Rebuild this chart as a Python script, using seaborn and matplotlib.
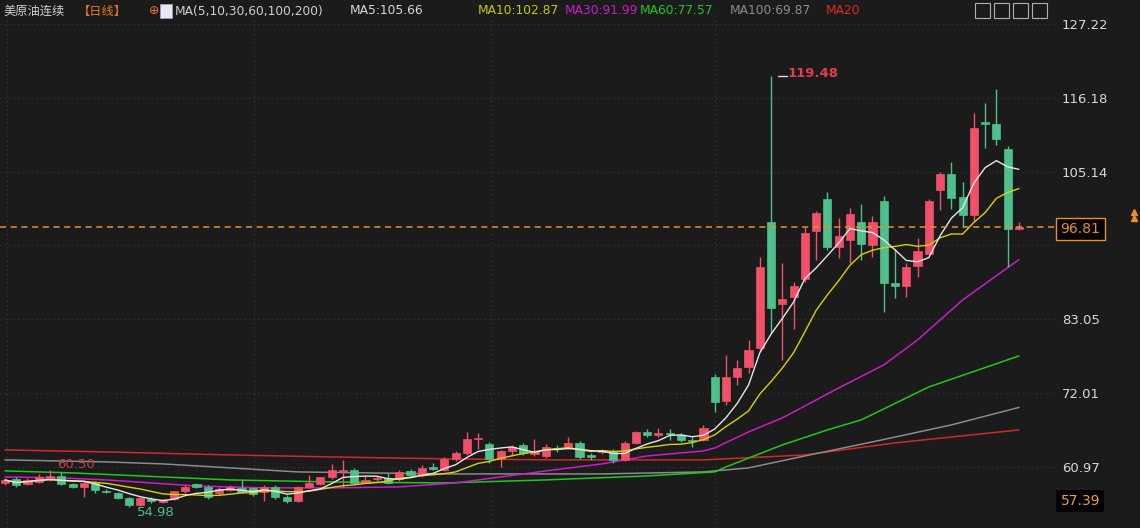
import numpy as np
import pandas as pd
import matplotlib
matplotlib.use("Agg")
import matplotlib.pyplot as plt
from matplotlib.patches import Rectangle
import seaborn as sns

# daily OHLC (91 sessions)
opens = [58.6, 59.2, 58.4, 58.7, 59.1, 59.6, 58.4, 58.0, 58.6, 57.4,
         57.0, 56.3, 55.2, 56.2, 55.7, 56.2, 57.3, 58.4, 58.0, 57.0,
         57.5, 57.8, 57.8, 57.2, 58.0, 56.5, 55.9, 58.0, 58.4, 59.4,
         60.4, 60.5, 58.6, 59.1, 59.3, 59.1, 60.3, 59.7, 60.9, 60.5,
         62.2, 63.0, 65.1, 64.4, 62.2, 63.3, 64.2, 62.9, 62.6, 63.8,
         63.9, 64.5, 62.8, 63.2, 63.4, 62.0, 64.6, 66.2, 65.8, 66.1,
         65.8, 65.0, 65.0, 74.4, 70.9, 74.4, 75.9, 78.7, 97.6, 85.3,
         86.4, 89.1, 96.2, 101.0, 93.9, 94.9, 97.6, 94.2, 100.7, 88.5,
         88.0, 91.0, 92.8, 102.4, 104.8, 101.3, 98.7, 112.6, 112.3, 108.5,
         96.6]
highs = [59.3, 59.5, 59.3, 59.9, 60.5, 60.2, 58.6, 58.9, 58.8, 57.7,
         57.2, 56.4, 56.4, 56.5, 56.1, 57.4, 58.2, 58.6, 58.2, 57.9,
         58.2, 59.0, 58.0, 58.3, 58.2, 56.8, 58.1, 59.7, 59.5, 61.4,
         62.0, 60.8, 59.6, 59.6, 60.0, 60.5, 60.7, 61.2, 61.6, 62.5,
         63.3, 66.2, 66.0, 64.7, 63.5, 64.2, 64.5, 65.2, 64.4, 64.3,
         65.4, 64.8, 63.0, 63.6, 63.7, 64.9, 66.3, 66.7, 66.8, 66.7,
         66.1, 65.4, 67.2, 74.9, 77.7, 76.9, 79.9, 92.4, 119.48, 91.4,
         88.6, 96.8, 99.3, 102.1, 98.2, 99.7, 100.3, 98.5, 101.5, 93.6,
         91.5, 95.2, 101.0, 105.1, 106.6, 103.6, 113.9, 115.4, 117.5, 109.0,
         97.6]
lows = [58.3, 58.0, 58.2, 58.5, 58.9, 58.2, 57.8, 56.4, 57.0, 57.0,
        56.1, 54.98, 55.1, 55.6, 55.5, 56.0, 57.1, 57.8, 56.2, 56.8,
        57.3, 57.0, 56.6, 55.9, 56.2, 55.5, 55.7, 57.8, 58.2, 59.2,
        58.0, 58.4, 58.5, 58.8, 58.4, 58.9, 59.5, 59.5, 60.5, 60.3,
        61.9, 62.8, 63.6, 61.5, 60.9, 62.6, 62.7, 62.6, 62.3, 63.2,
        63.6, 62.1, 62.0, 62.9, 61.6, 61.8, 64.4, 65.4, 65.4, 65.0,
        64.7, 63.9, 64.8, 69.2, 70.2, 73.2, 75.0, 78.3, 80.9, 77.0,
        81.6, 88.6, 91.9, 93.4, 92.2, 91.5, 91.9, 92.4, 84.1, 86.2,
        86.4, 89.4, 92.8, 99.4, 99.5, 96.9, 97.6, 108.7, 109.1, 90.9,
        96.4]
closes = [59.0, 58.3, 59.0, 59.5, 59.6, 58.4, 58.0, 58.6, 57.5, 57.2,
          56.3, 55.3, 56.3, 55.8, 56.0, 57.3, 58.0, 58.0, 56.5, 57.7,
          58.0, 57.2, 56.9, 58.0, 56.5, 55.9, 58.0, 58.6, 59.4, 60.5,
          60.5, 58.6, 59.0, 59.3, 58.6, 60.2, 59.7, 60.8, 60.7, 62.2,
          63.1, 65.1, 65.3, 62.2, 63.3, 63.9, 63.0, 63.4, 64.0, 63.6,
          64.6, 62.4, 62.4, 63.5, 62.0, 64.6, 66.2, 65.7, 66.0, 65.9,
          65.0, 64.8, 66.8, 70.7, 74.4, 75.7, 78.5, 90.9, 84.7, 86.1,
          88.0, 96.0, 98.9, 93.9, 95.5, 98.8, 94.3, 97.6, 88.5, 88.0,
          90.9, 93.3, 100.7, 104.8, 101.2, 98.7, 111.7, 112.3, 110.0, 96.6,
          96.81]

# longer moving averages, read at a few sessions (index, value)
ma30_idx = [0, 5, 9, 13, 17, 23, 29, 35, 40, 44, 48, 53, 57, 62, 63, 66, 69, 74, 78, 81, 85, 90]
ma30_val = [59.47, 59.32, 59.02, 58.57, 58.12, 57.83, 57.83, 57.98, 58.57, 59.47, 60.37,
            61.42, 62.61, 63.36, 63.81, 66.2, 68.3, 72.78, 76.22, 79.96, 85.94, 91.99]
ma60_idx = [0, 6, 12, 20, 29, 39, 48, 57, 63, 64, 69, 73, 76, 82, 90]
ma60_val = [60.37, 60.07, 59.62, 59.02, 58.72, 58.57, 59.02, 59.62, 60.22, 60.97,
            64.26, 66.5, 68.0, 72.93, 77.57]
ma100_idx = [0, 9, 14, 20, 26, 39, 53, 62, 66, 71, 77, 84, 90]
ma100_val = [62.02, 61.72, 61.42, 60.82, 60.22, 59.92, 59.92, 60.22, 60.82, 62.61,
             64.71, 67.25, 69.87]
ma200_idx = [0, 9, 20, 29, 39, 49, 62, 71, 79, 90]
ma200_val = [63.51, 63.21, 62.76, 62.46, 62.17, 62.02, 62.02, 62.76, 64.56, 66.5]

y_ticks = [127.22, 116.18, 105.14, 94.10, 83.05, 72.01, 60.97]
last_price = 96.81
low_box = 57.39

BG = "#1b1b1b"
UP = "#f0506a"
DOWN = "#4fbf8b"

sns.set_style("dark", {"axes.facecolor": BG, "figure.facecolor": BG})
plt.rcParams['font.family'] = ['DejaVu Sans', 'Noto Sans CJK SC']

fig = plt.figure(figsize=(11.4, 5.28), dpi=100)
ax = fig.add_axes([0, 0, 1055 / 1140, 1 - 12 / 528])
ax.set_facecolor(BG)

df = pd.DataFrame({"o": opens, "h": highs, "l": lows, "c": closes})
df["i"] = np.arange(len(df))
df["ma5"] = df["c"].rolling(5, min_periods=1).mean()
df["ma10"] = df["c"].rolling(10, min_periods=1).mean()

# candles
for _, r in df.iterrows():
    col = UP if r.c >= r.o else DOWN
    ax.vlines(r.i, r.l, r.h, color=col, lw=1, zorder=3)
    lo, hi = min(r.o, r.c), max(r.o, r.c)
    ax.add_patch(Rectangle((r.i - 0.36, lo), 0.72, max(hi - lo, 0.12),
                           facecolor=col, edgecolor=col, lw=0.5, zorder=4))

# moving averages
sns.lineplot(x=ma200_idx, y=ma200_val, ax=ax, color="#d02828", lw=1.1, zorder=2)
sns.lineplot(x=ma100_idx, y=ma100_val, ax=ax, color="#8a8a8a", lw=1.1, zorder=2)
sns.lineplot(x=ma60_idx, y=ma60_val, ax=ax, color="#1ec81e", lw=1.1, zorder=2)
sns.lineplot(x=ma30_idx, y=ma30_val, ax=ax, color="#c81ec8", lw=1.1, zorder=2)
sns.lineplot(data=df, x="i", y="ma10", ax=ax, color="#d4d400", lw=1, zorder=5)
sns.lineplot(data=df, x="i", y="ma5", ax=ax, color="#e6e6e6", lw=1, zorder=6)

ax.set_xlim(-0.44, 93.2)
ax.set_ylim(51.83, 129.02)
ax.set_xlabel("")
ax.set_ylabel("")
ax.set_xticks([])

# dotted grid
for v in y_ticks:
    ax.axhline(v, color="#3a3a3a", lw=0.8, ls=(0, (1, 3)), zorder=1)
for gx in [0.18, 22.1, 43.1, 63.0]:
    ax.axvline(gx, color="#3a3a3a", lw=0.8, ls=(0, (1, 3)), zorder=1)

ax.axhline(last_price, color="#e8902a", lw=1.1, ls=(0, (4, 3)), zorder=7)

ax.yaxis.tick_right()
shown = [v for v in y_ticks if abs(v - last_price) > 3]
ax.set_yticks(shown)
ax.set_yticklabels([f"{v:.2f}" for v in shown])
ax.tick_params(axis="y", length=0, pad=5, labelsize=9.5, labelcolor="#d8d8d8")
for s in ax.spines.values():
    s.set_visible(False)

# price boxes
ax.annotate(f"{last_price:.2f}", xy=(1.0, last_price), xycoords=("axes fraction", "data"),
            xytext=(4, -1), textcoords="offset points", va="center", ha="left",
            fontsize=10, color="#e8902a", annotation_clip=False,
            bbox=dict(boxstyle="square,pad=0.3", fc="black", ec="#e8902a", lw=1))
ax.annotate(f"{low_box:.2f}", xy=(1.0, low_box - 1.5), xycoords=("axes fraction", "data"),
            xytext=(4, 0), textcoords="offset points", va="center", ha="left",
            fontsize=10, color="#e8a040", annotation_clip=False,
            bbox=dict(boxstyle="square,pad=0.3", fc="black", ec="none"))
ax.plot([1.075, 1.075], [last_price + 1.4, last_price + 2.3], "^", color="#e8902a",
        ms=5, transform=ax.get_yaxis_transform(), clip_on=False)

# high / low labels
ax.plot([68.6, 69.4], [119.48, 119.48], color="#e0e0e0", lw=1, zorder=8)
ax.text(69.5, 119.8, "119.48", color="#e0404e", fontsize=9.5, fontweight="bold", va="center")
ax.text(4.6, 61.4, "60.50", color="#c84040", fontsize=9.5, va="center")
ax.text(11.7, 54.2, "54.98", color="#4fbf8b", fontsize=9.5, va="center")

# header
hy = 1 - 11 / 528
header = [
    (3, "美原油连续", "#d0d0d0"),
    (78, "【日线】", "#e8781e"),
    (149, "⊕", "#e8781e"),
    (175, "MA(5,10,30,60,100,200)", "#d0d0d0"),
    (350, "MA5:105.66", "#d8d8d8"),
    (478, "MA10:102.87", "#c8c800"),
    (565, "MA30:91.99", "#c81ec8"),
    (640, "MA60:77.57", "#1ec81e"),
    (730, "MA100:69.87", "#8c8c8c"),
    (826, "MA20", "#e02828"),
]
for px, txt, col in header:
    fig.text(px / 1140, hy, txt, color=col, fontsize=8.8, va="center", ha="left")
fig.patches.append(Rectangle((160 / 1140, 1 - 18 / 528), 12 / 1140, 14 / 528,
                             transform=fig.transFigure, fc="#e8e8f0", ec="#a0a0c0", lw=0.6))
for k in range(4):
    fig.patches.append(Rectangle(((975 + k * 19) / 1140, 1 - 18 / 528), 15 / 1140, 15 / 528,
                                 transform=fig.transFigure, fc="none", ec="#b0b0b0", lw=0.8))

fig.savefig("out.png", dpi=100, facecolor=BG)
